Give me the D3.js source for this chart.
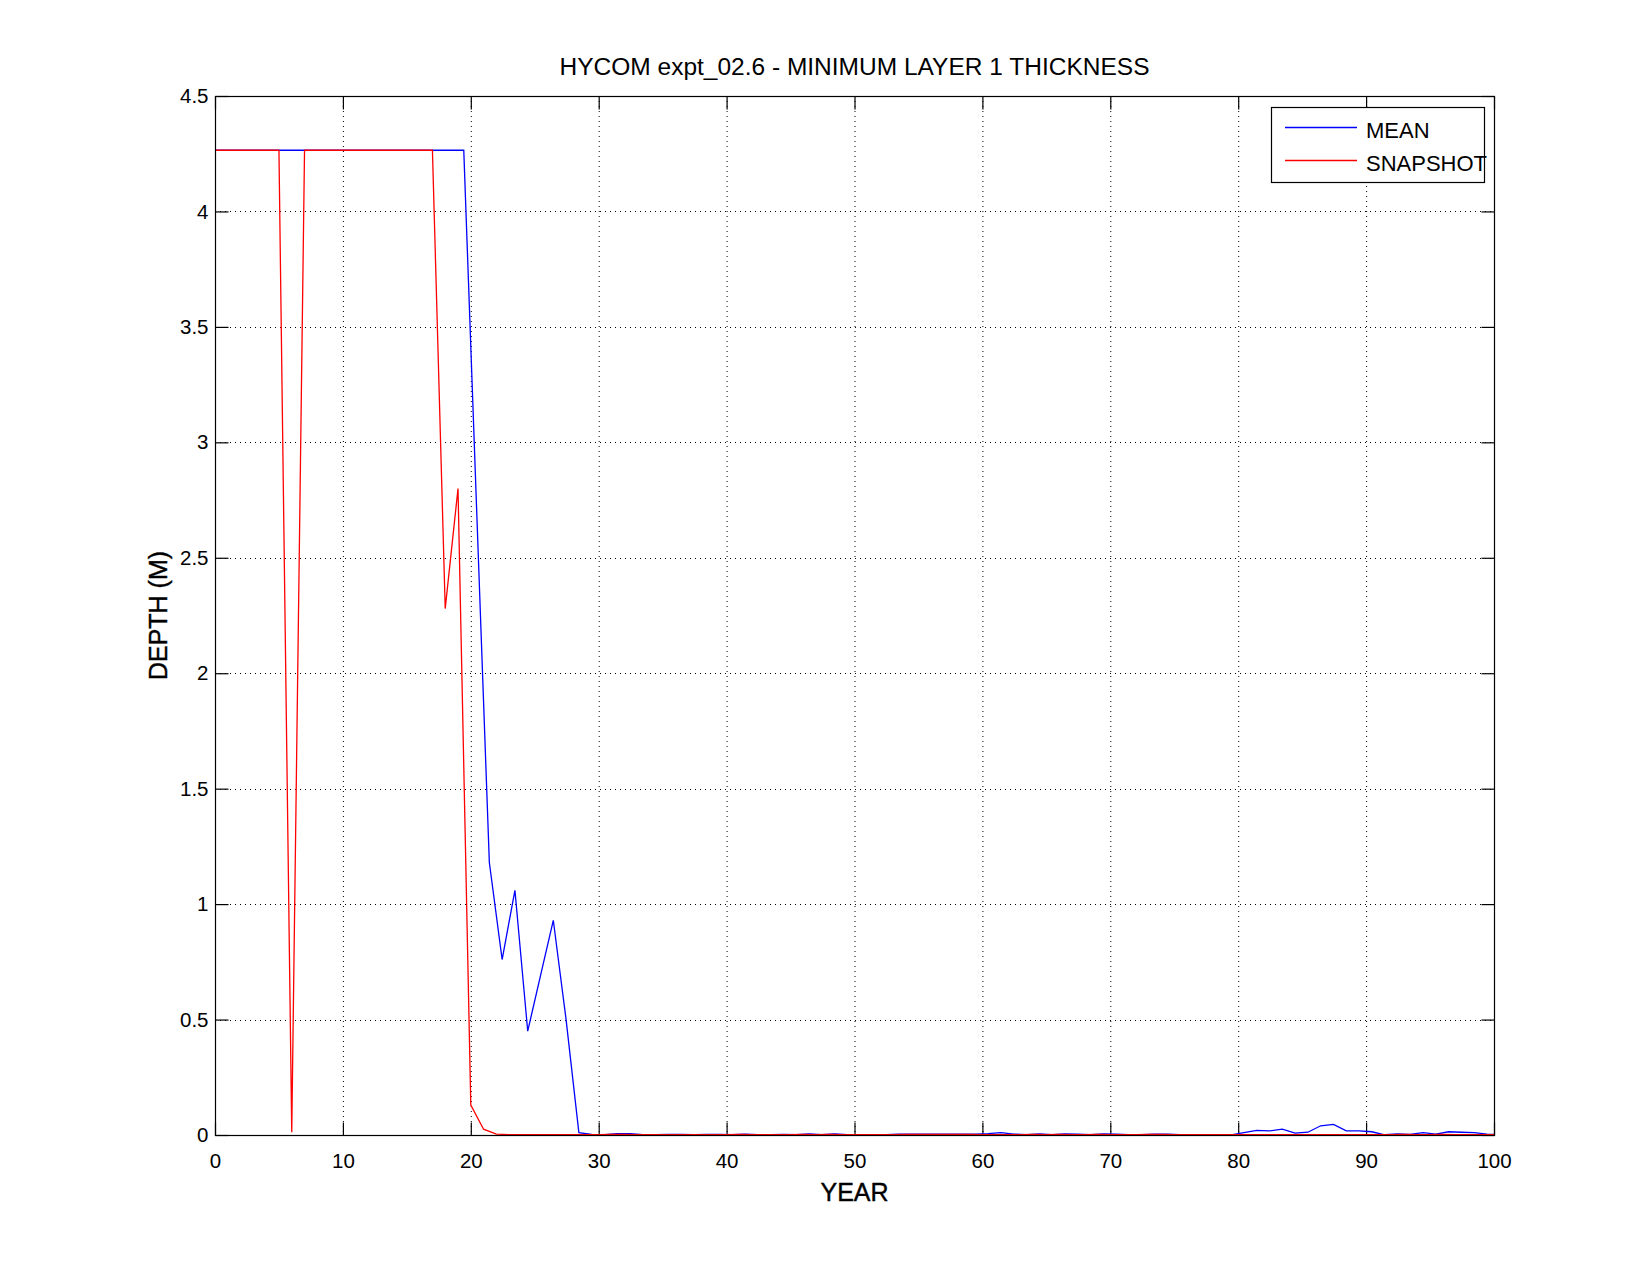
<!DOCTYPE html>
<html>
<head>
<meta charset="utf-8">
<script src="https://cdn.jsdelivr.net/npm/d3@7"></script>
<style>
  html, body { margin: 0; padding: 0; background: #fff; }
  text { font-family: "Liberation Sans", Arial, Helvetica, sans-serif; fill: #000; }
</style>
</head>
<body>
<svg id="chart" width="1650" height="1275"></svg>
<script>
// ---------- data ----------
const titleText = "HYCOM expt_02.6 - MINIMUM LAYER 1 THICKNESS";
const xLabel = "YEAR";
const yLabel = "DEPTH (M)";
const seriesNames = ["MEAN", "SNAPSHOT"];
const seriesColors = ["#0000ff", "#ff0000"];
const xTicks = [0, 10, 20, 30, 40, 50, 60, 70, 80, 90, 100];
const yTicks = [0, 0.5, 1, 1.5, 2, 2.5, 3, 3.5, 4, 4.5];

const meanYears = [0,
  0.45, 1.45, 2.45, 3.45, 4.45, 5.45, 6.45, 7.45, 8.45, 9.45,
  10.45, 11.45, 12.45, 13.45, 14.45, 15.45, 16.45, 17.45, 18.45, 19.45,
  20.45, 21.45, 22.45, 23.45, 24.45, 25.45, 26.45, 27.45, 28.45, 29.45,
  30.45, 31.45, 32.45, 33.45, 34.45, 35.45, 36.45, 37.45, 38.45, 39.45,
  40.45, 41.45, 42.45, 43.45, 44.45, 45.45, 46.45, 47.45, 48.45, 49.45,
  50.45, 51.45, 52.45, 53.45, 54.45, 55.45, 56.45, 57.45, 58.45, 59.45,
  60.45, 61.45, 62.45, 63.45, 64.45, 65.45, 66.45, 67.45, 68.45, 69.45,
  70.45, 71.45, 72.45, 73.45, 74.45, 75.45, 76.45, 77.45, 78.45, 79.45,
  80.45, 81.45, 82.45, 83.45, 84.45, 85.45, 86.45, 87.45, 88.45, 89.45,
  90.45, 91.45, 92.45, 93.45, 94.45, 95.45, 96.45, 97.45, 98.45, 99.45,
  100];
const meanValues = [4.265,
  4.265, 4.265, 4.265, 4.265, 4.265, 4.265, 4.265, 4.265, 4.265, 4.265,
  4.265, 4.265, 4.265, 4.265, 4.265, 4.265, 4.265, 4.265, 4.265, 4.265,
  2.72, 1.18, 0.76, 1.06, 0.45, 0.69, 0.93, 0.50, 0.010, 0.003,
  0.002, 0.006, 0.006, 0.002, 0.002, 0.003, 0.003, 0.002, 0.003, 0.003,
  0.002, 0.004, 0.002, 0.002, 0.003, 0.002, 0.005, 0.002, 0.005, 0.002,
  0.002, 0.002, 0.002, 0.004, 0.004, 0.004, 0.004, 0.004, 0.004, 0.004,
  0.006, 0.010, 0.004, 0.002, 0.005, 0.002, 0.005, 0.004, 0.002, 0.005,
  0.004, 0.002, 0.002, 0.004, 0.004, 0.002, 0.002, 0.002, 0.001, 0.001,
  0.010, 0.020, 0.018, 0.025, 0.008, 0.012, 0.040, 0.046, 0.018, 0.018,
  0.014, 0.001, 0.005, 0.003, 0.010, 0.004, 0.014, 0.012, 0.010, 0.004,
  0.003];

const snapYears = [0, 1, 2, 3, 4, 5, 6, 7, 8, 9,
  10, 11, 12, 13, 14, 15, 16, 17, 18, 19,
  20, 21, 22, 23, 24, 25, 26, 27, 28, 29,
  30, 31, 32, 33, 34, 35, 36, 37, 38, 39,
  40, 41, 42, 43, 44, 45, 46, 47, 48, 49,
  50, 51, 52, 53, 54, 55, 56, 57, 58, 59,
  60, 61, 62, 63, 64, 65, 66, 67, 68, 69,
  70, 71, 72, 73, 74, 75, 76, 77, 78, 79,
  80, 81, 82, 83, 84, 85, 86, 87, 88, 89,
  90, 91, 92, 93, 94, 95, 96, 97, 98, 99,
  100];
const snapValues = [4.265, 4.265, 4.265, 4.265, 4.265, 4.265, 0.012, 4.265, 4.265, 4.265,
  4.265, 4.265, 4.265, 4.265, 4.265, 4.265, 4.265, 4.265, 2.28, 2.80,
  0.13, 0.025, 0.004, 0.002, 0.002, 0.002, 0.002, 0.002, 0.002, 0.002,
  0.002, 0.003, 0.003, 0.002, 0.002, 0.002, 0.002, 0.002, 0.002, 0.002,
  0.002, 0.003, 0.002, 0.002, 0.002, 0.002, 0.003, 0.002, 0.003, 0.002,
  0.002, 0.002, 0.002, 0.002, 0.003, 0.003, 0.003, 0.003, 0.003, 0.003,
  0.002, 0.002, 0.002, 0.002, 0.003, 0.002, 0.003, 0.002, 0.002, 0.003,
  0.002, 0.002, 0.002, 0.003, 0.003, 0.002, 0.002, 0.002, 0.002, 0.002,
  0.002, 0.002, 0.002, 0.002, 0.002, 0.002, 0.002, 0.002, 0.002, 0.002,
  0.002, 0.002, 0.002, 0.003, 0.002, 0.002, 0.003, 0.002, 0.002, 0.002,
  0.002];

// ---------- layout ----------
const svg = d3.select("#chart");
const L = 215, R = 1494, T = 96, B = 1135;

const x = d3.scaleLinear().domain([0, 100]).range([L, R]);
const y = d3.scaleLinear().domain([0, 4.5]).range([B, T]);

// grid
const grid = svg.append("g");
grid.selectAll("line.gx").data(xTicks.slice(1, -1)).enter().append("line")
  .attr("x1", d => x(d) + 0.5).attr("x2", d => x(d) + 0.5)
  .attr("y1", T).attr("y2", B)
  .attr("stroke", "#000").attr("stroke-width", 1).attr("stroke-dasharray", "1,4");
grid.selectAll("line.gy").data(yTicks.slice(1, -1)).enter().append("line")
  .attr("y1", d => Math.round(y(d)) + 0.5).attr("y2", d => Math.round(y(d)) + 0.5)
  .attr("x1", L).attr("x2", R)
  .attr("stroke", "#000").attr("stroke-width", 1).attr("stroke-dasharray", "1,4");

// axes (ticks inward on all sides)
const tickLen = 13;
const fmt = d3.format("");
const axB = svg.append("g").attr("transform", `translate(0,${B + 0.5})`)
  .call(d3.axisBottom(x).tickValues(xTicks).tickSize(-tickLen).tickPadding(18).tickFormat(fmt));
const axT = svg.append("g").attr("transform", `translate(0,${T + 0.5})`)
  .call(d3.axisTop(x).tickValues(xTicks).tickSize(-tickLen).tickFormat(""));
const axL = svg.append("g").attr("transform", `translate(${L + 0.5},0)`)
  .call(d3.axisLeft(y).tickValues(yTicks).tickSize(-tickLen).tickPadding(7).tickFormat(fmt));
const axR = svg.append("g").attr("transform", `translate(${R + 0.5},0)`)
  .call(d3.axisRight(y).tickValues(yTicks).tickSize(-tickLen).tickFormat(""));
[axB, axT, axL, axR].forEach(a => {
  a.select(".domain").remove();
  a.selectAll("line").attr("stroke", "#000").attr("stroke-width", 1.2);
  a.selectAll("text").style("font-family", '"Liberation Sans", Arial, sans-serif')
    .style("font-size", "20.5px").attr("fill", "#000");
});

// lines
const lineGen = d3.line().x(d => x(d[0])).y(d => y(d[1]));
const meanPts = meanYears.map((v, i) => [v, meanValues[i]]);
const snapPts = snapYears.map((v, i) => [v, snapValues[i]]);
const plot = svg.append("g");
plot.append("path").datum(meanPts).attr("d", lineGen)
  .attr("fill", "none").attr("stroke", seriesColors[0]).attr("stroke-width", 1.3);
plot.append("path").datum(snapPts).attr("d", lineGen)
  .attr("fill", "none").attr("stroke", seriesColors[1]).attr("stroke-width", 1.3);

// frame
svg.append("rect").attr("x", L + 0.5).attr("y", T + 0.5)
  .attr("width", R - L).attr("height", B - T)
  .attr("fill", "none").attr("stroke", "#000").attr("stroke-width", 1.2);

// title and labels
svg.append("text").attr("x", (L + R) / 2).attr("y", 75)
  .attr("text-anchor", "middle").style("font-size", "24.5px").text(titleText);
svg.append("text").attr("x", (L + R) / 2).attr("y", 1201)
  .attr("text-anchor", "middle").style("font-size", "25px").style("stroke", "#000").style("stroke-width", 0.4).text(xLabel);
svg.append("text").attr("transform", `translate(167,${(T + B) / 2}) rotate(-90)`)
  .attr("text-anchor", "middle").style("font-size", "25px").style("stroke", "#000").style("stroke-width", 0.4).text(yLabel);

// legend
const lg = svg.append("g");
lg.append("rect").attr("x", 1271.5).attr("y", 107.5).attr("width", 213).attr("height", 75)
  .attr("fill", "#fff").attr("stroke", "#000").attr("stroke-width", 1.2);
seriesNames.forEach((name, i) => {
  const yy = 127.5 + i * 33;
  lg.append("line").attr("x1", 1285).attr("x2", 1357).attr("y1", yy).attr("y2", yy)
    .attr("stroke", seriesColors[i]).attr("stroke-width", 1.3);
  lg.append("text").attr("x", 1366).attr("y", yy + 10).style("font-size", "22px").text(name);
});
</script>
</body>
</html>
